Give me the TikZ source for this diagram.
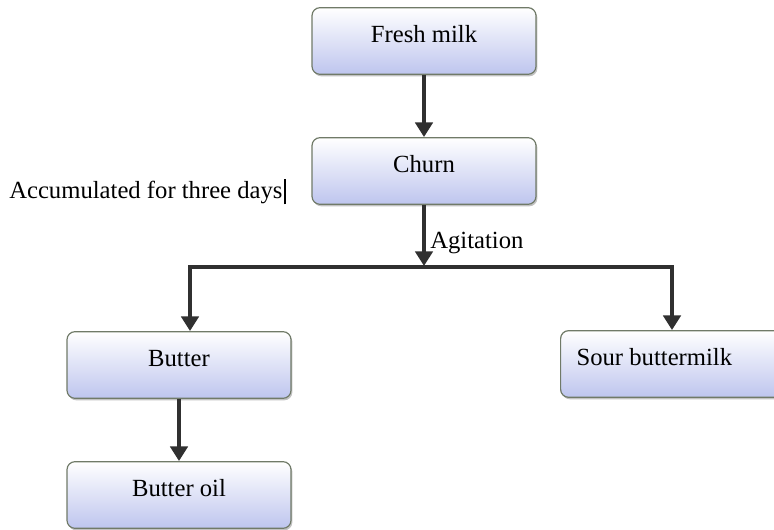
\documentclass[tikz,border=0pt]{standalone}
\usepackage{fontspec}
\setmainfont{Liberation Serif}
\usepackage{tikz}
\usetikzlibrary{arrows.meta,shadows}
\definecolor{boxblue}{RGB}{190,197,238}
\definecolor{boxline}{RGB}{112,122,104}
\definecolor{arrowgray}{RGB}{48,48,48}

\begin{document}
\begin{tikzpicture}[x=0.75pt, y=-0.75pt,
    box/.style={rectangle, rounded corners=6pt, draw=boxline, line width=0.9pt,
      top color=white, middle color=white!88!boxblue, bottom color=boxblue,
      drop shadow={shadow xshift=1pt, shadow yshift=-1.5pt, fill=gray!80, opacity=0.6},
      minimum width=168pt, minimum height=50pt, text height=0.8em, text depth=0.55em,
      font=\fontsize{18.5}{22}\selectfont},
    lbl/.style={font=\fontsize{18.5}{22}\selectfont, inner sep=0pt},
    arr/.style={draw=arrowgray, line width=3.5pt, -{Triangle[width=13pt,length=11pt]}},
    bar/.style={draw=arrowgray, line width=3.5pt, line cap=rect}]
            \useasboundingbox (0,0) rectangle (774,530);
            \foreach \name/\x/\y/\txt in {fresh/424/41/Fresh milk, churn/424/171/Churn,
                butter/179/365/Butter, oil/179/495/Butter oil} {
                \node[box] (\name) at (\x,\y) {\txt};
            }
            \node[box, anchor=west, inner xsep=12pt] (sour) at (560,364) {Sour buttermilk\hspace*{40pt}};
            \node[lbl, anchor=base west] (accum) at (9,199) {Accumulated for three days\kern1pt\rule[-0.22em]{1.6pt}{1.05em}};
            \node[lbl, anchor=base west] (agit) at (430,249) {Agitation};
            \coordinate (split) at (424,266);
            \coordinate (splitL) at (190,267);
            \coordinate (splitR) at (672,267);
            \draw[arr] (fresh) -- (churn);
            \draw[arr] (churn) -- (split);
            \draw[bar] (splitL) -- (splitR);
            \draw[arr] (splitL) -- (splitL |- butter.north);
            \draw[arr] (splitR) -- (splitR |- sour.north);
            \draw[arr] (butter) -- (oil);

        \end{tikzpicture}
\end{document}
